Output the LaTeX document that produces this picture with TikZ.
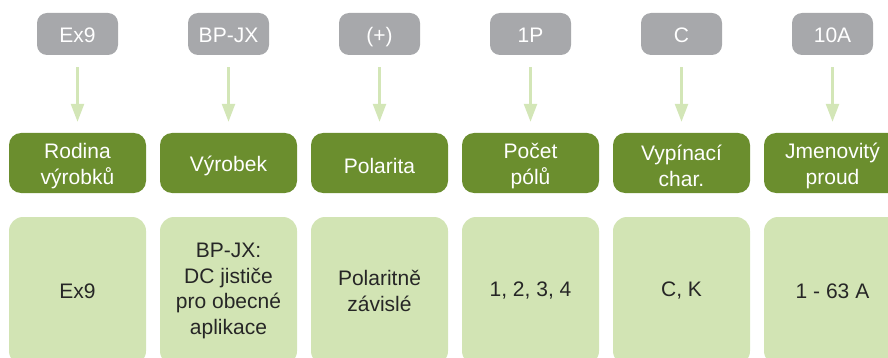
\documentclass[tikz,border=0pt]{standalone}
\usepackage{fontspec}
\setmainfont{Liberation Sans}
\usetikzlibrary{arrows.meta}
\definecolor{tagGray}{HTML}{A7A8AB}
\definecolor{darkGreen}{HTML}{6B8E2E}
\definecolor{lightGreen}{HTML}{D2E4B4}
\definecolor{arrowGreen}{HTML}{D3E6B7}
\definecolor{bodyText}{HTML}{262626}
\tikzset{
  tagbox/.style={fill=tagGray, rounded corners=10pt, minimum width=81pt, minimum height=42pt, inner sep=0pt},
  tagtext/.style={inner sep=0pt, text=white, text height=15pt, text depth=0pt, font=\fontsize{21}{25.5}\selectfont},
  headbox/.style={fill=darkGreen, rounded corners=12pt, minimum width=137pt, minimum height=60pt, inner sep=0pt},
  headtext/.style={inner sep=0pt, text=white, align=center, font=\fontsize{21}{25.5}\selectfont},
  valbox/.style={fill=lightGreen, rounded corners=14pt, minimum width=137pt, minimum height=148pt, inner sep=0pt, text=bodyText, align=center, font=\fontsize{21}{25.5}\selectfont},
  flowarrow/.style={draw=arrowGreen, line width=2.5pt, -{Triangle[width=13pt,length=18pt]}, shorten <=12pt, shorten >=11pt}
}
\begin{document}
\begin{tikzpicture}[x=1pt,y=-1pt]
\useasboundingbox (0,0) rectangle (888,358);
\clip (0,0) rectangle (888,358);
\foreach \i/\tg/\hd/\vl in {
  0/{Ex9}/{Rodina\\výrobků}/{Ex9},
  1/{BP-JX}/{Výrobek}/{BP-JX:\\DC jističe\\pro obecné\\aplikace},
  2/{(+)}/{Polarita}/{Polaritně\\závislé},
  3/{1P}/{Počet\\pólů}/{1, 2, 3, 4},
  4/{C}/{Vypínací\\char.}/{C, K},
  5/{10A}/{Jmenovitý\\proud}/{1 - 63 A}}{
  \pgfmathsetmacro{\cx}{77.5+151*\i}
  \node[tagbox] (t\i) at (\cx,34) {};
  \node[tagtext] (tt\i) at (\cx,35.5) {\tg};
  \node[headbox] (h\i) at (\cx,163) {};
  \node[headtext] (ht\i) at (\cx,166) {\hd};
  \node[valbox] (v\i) at (\cx,291) {\vl};
  \draw[flowarrow] (t\i.south) -- (h\i.north);
}
\end{tikzpicture}
\end{document}
